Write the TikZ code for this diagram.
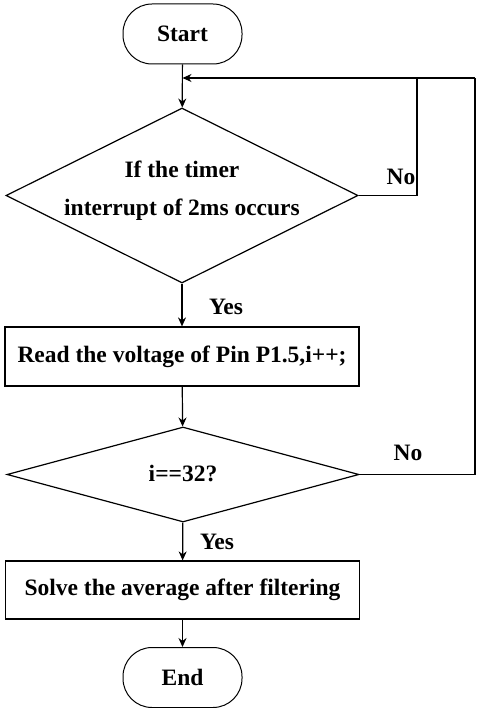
\documentclass[tikz,border=0pt]{standalone}
\usepackage{fontspec}
\setmainfont{Liberation Serif}
\usetikzlibrary{shapes.geometric,arrows.meta}
\begin{document}
\begin{tikzpicture}[x=1pt,y=-1pt,
  every node/.style={font=\fontsize{23.5}{38}\selectfont\bfseries},
  term/.style={draw, rectangle, rounded corners=29pt, minimum width=119pt, minimum height=60pt, inner sep=0pt, line width=1pt},
  proc/.style={draw, rectangle, minimum width=354pt, inner sep=0pt, line width=1.2pt},
  decide/.style={draw, diamond, inner sep=0pt, line width=1.2pt},
  txt/.style={align=center, inner sep=0pt},
  flow/.style={line width=1.2pt, -{Stealth[length=9pt,width=8pt]}},
  wire/.style={line width=1.2pt},
  tag/.style={inner sep=0pt}
]
\useasboundingbox (0,0) rectangle (477,708);

% flow steps
\node[term] (start) at (182.5,34) {Start};
\node[decide, minimum width=352pt, minimum height=175pt] (d1) at (182,195.5) {};
\node[txt] (d1txt) at (182,191) {If the timer\\interrupt of 2ms occurs};
\node[proc, minimum height=59pt] (read) at (182,356.5) {Read the voltage of Pin P1.5,i++;};
\node[decide, minimum width=352pt, minimum height=95pt] (d2) at (183,474.5) {};
\node[txt] (d2txt) at (183,474) {i==32?};
\node[proc, minimum height=58pt] (solve) at (182.5,590) {Solve the average after filtering};
\node[term] (end) at (182.5,677.5) {End};

% return path points
\coordinate (join) at (182.5,78);
\coordinate (loopA) at (417,78);
\coordinate (loopB) at (475,78);

% main flow
\draw[flow] (start) -- (d1);
\draw[flow] (d1) -- (read);
\draw[flow] (read) -- (d2);
\draw[flow] (d2) -- (solve);
\draw[flow] (solve) -- (end);

% loops back to the wait test
\draw[wire] (d1.east) -| (loopA);
\draw[wire] (d2.east) -| (loopB);
\draw[flow] (loopB) -- (join);

% branch labels
\node[tag] (no1) at (401,177) {No};
\node[tag] (yes1) at (226,307) {Yes};
\node[tag] (no2) at (408,453) {No};
\node[tag] (yes2) at (217,542) {Yes};
\end{tikzpicture}
\end{document}
